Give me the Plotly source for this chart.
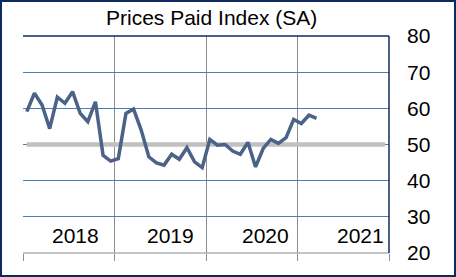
import plotly.graph_objects as go

# Data (monthly, Jan 2018 - Mar 2021)
prices_paid = [59.1, 64.2, 60.9, 54.4, 63.1, 61.4, 64.6, 58.6, 56.3, 61.8, 47.0, 45.4,
               46.1, 58.6, 59.8, 54.0, 46.6, 44.9, 44.3, 47.3, 45.9, 49.1, 45.2, 43.6,
               51.4, 49.8, 50.0, 48.2, 47.3, 50.6, 43.8, 48.9, 51.4, 50.3, 51.9, 56.9,
               55.8, 58.1, 57.2]
neutral_level = [50] * 48  # Jan 2018 - Dec 2021
year_labels = ["2018", "2019", "2020", "2021"]
y_ticks = [20, 30, 40, 50, 60, 70, 80]

W, H = 456, 277
L, R, T, B = 23, 67, 36, 24
pw, ph = W - L - R, H - T - B

x_data = [i + 0.5 for i in range(len(prices_paid))]
x_neutral = [i + 0.5 for i in range(len(neutral_level))]

fig = go.Figure()
fig.add_trace(go.Scatter(x=x_neutral, y=neutral_level, mode="lines",
                         line=dict(color="#c0c0c0", width=4.5), hoverinfo="skip"))
fig.add_trace(go.Scatter(x=x_data, y=prices_paid, mode="lines",
                         line=dict(color="#4b6289", width=3.5)))

font = "Liberation Sans, Arial, sans-serif"

annotations = []
for i, lab in enumerate(year_labels):
    annotations.append(dict(x=12 * i + 6.95 + 0.45 * i, y=24.8, xref="x", yref="y",
                            text=lab, showarrow=False, xanchor="center", yanchor="middle",
                            font=dict(family=font, size=21, color="black")))
annotations.append(dict(x=(211 - L) / pw, y=(H - 17 - B) / ph, xref="paper", yref="paper",
                        text="Prices Paid Index (SA)", showarrow=False,
                        xanchor="center", yanchor="middle",
                        font=dict(family=font, size=21, color="black")))

navy = "#0f2a62"
shapes = [
    # bottom axis line (gray)
    dict(type="line", xref="paper", yref="paper", x0=0, x1=1, y0=0, y1=0,
         line=dict(color="#8c8c8c", width=1)),
    # top and right border (navy)
    dict(type="line", xref="paper", yref="paper", x0=0, x1=1, y0=1, y1=1,
         line=dict(color=navy, width=1.5)),
    dict(type="line", xref="paper", yref="paper", x0=1, x1=1, y0=0, y1=1,
         line=dict(color=navy, width=1.5)),
    # outer frame
    dict(type="rect", xref="paper", yref="paper",
         x0=(1 - L) / pw, x1=(W - 1 - L) / pw,
         y0=(H - B - (H - 1)) / ph, y1=(H - B - 1) / ph,
         line=dict(color=navy, width=2)),
]

fig.update_layout(
    width=W, height=H,
    margin=dict(l=L, r=R, t=T, b=B),
    paper_bgcolor="white", plot_bgcolor="white",
    showlegend=False,
    annotations=annotations,
    shapes=shapes,
    xaxis=dict(range=[0, 48], tickvals=[0, 12, 24, 36, 48], showticklabels=False,
               ticks="outside", ticklen=7, tickcolor="#8c8c8c", tickwidth=1,
               showgrid=True, gridcolor="#8c8c8c", gridwidth=1,
               zeroline=False, showline=False, fixedrange=True),
    yaxis=dict(range=[20, 80], tickvals=y_ticks, side="right",
               showgrid=True, gridcolor="#4a7ebb", gridwidth=1,
               zeroline=False, showline=False, ticks="",
               ticklabelstandoff=17,
               tickfont=dict(family=font, size=21, color="black"), fixedrange=True),
)

fig.write_html("out.html")
